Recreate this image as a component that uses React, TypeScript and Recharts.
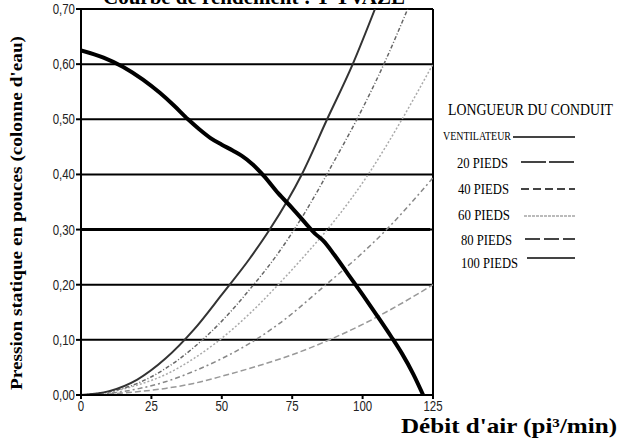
import { LineChart, Line, XAxis, YAxis, CartesianGrid, ReferenceLine } from 'recharts';

// Courbe du ventilateur (débit, pression)
const FAN_X = [0, 8, 15, 22, 28, 33, 38, 42, 46, 50, 54, 57, 61, 65, 70, 75, 80, 83, 86, 90, 95, 100, 105, 110, 114, 118, 121.5];
const FAN_Y = [0.625, 0.612, 0.595, 0.572, 0.548, 0.525, 0.5, 0.482, 0.466, 0.454, 0.443, 0.434, 0.418, 0.397, 0.366, 0.339, 0.31, 0.293, 0.28, 0.254, 0.218, 0.182, 0.145, 0.107, 0.075, 0.038, 0];

// Courbes de conduit
const P20_X = [0, 10, 20, 30, 40, 50, 63, 75, 89.5, 100, 110, 125];
const P20_Y = [0, 0.002, 0.006, 0.012, 0.021, 0.034, 0.053, 0.073, 0.103, 0.128, 0.155, 0.2];
const P40_X = [0, 10, 20, 30, 40, 50, 61, 70, 87, 100, 108.5, 125];
const P40_Y = [0, 0.003, 0.011, 0.024, 0.043, 0.066, 0.097, 0.128, 0.2, 0.258, 0.3, 0.394];
const P60_X = [0, 10, 20, 30, 40, 48, 60, 70, 80, 90, 102, 114, 125];
const P60_Y = [0, 0.005, 0.018, 0.037, 0.066, 0.095, 0.148, 0.2, 0.256, 0.316, 0.4, 0.5, 0.6];
const P80_X = [0, 10, 20, 30, 40, 50, 60, 70, 80, 90, 100, 108, 116];
const P80_Y = [0, 0.006, 0.021, 0.048, 0.086, 0.134, 0.192, 0.257, 0.335, 0.425, 0.52, 0.605, 0.7];
const P100_X = [0, 10, 20, 30, 40, 50, 60, 67, 78.4, 87.4, 96.5, 104.4];
const P100_Y = [0, 0.007, 0.028, 0.066, 0.118, 0.182, 0.248, 0.3, 0.4, 0.5, 0.6, 0.7];

const X_TICKS = [0, 25, 50, 75, 100, 125];
const Y_TICKS = [0, 0.1, 0.2, 0.3, 0.4, 0.5, 0.6, 0.7];

const LEGEND_LABELS = ['VENTILATEUR', '20 PIEDS', '40 PIEDS', '60 PIEDS', '80 PIEDS', '100 PIEDS'];

const toPoints = (xs: number[], ys: number[]) => xs.map((x, i) => ({ x, y: ys[i] }));

const tickFont = "'Liberation Sans', Arial, sans-serif";
const serif = "'Liberation Serif', 'DejaVu Serif', serif";

const legendRows = [
  { label: LEGEND_LABELS[0], tx: 443, tw: 68, ty: 140, size: 9, sy: 1.35, x1: 513, ly: 137, stroke: '#444', dash: undefined },
  { label: LEGEND_LABELS[1], tx: 457, tw: 51, ty: 168, size: 12, sy: 1.3, x1: 521, ly: 162, stroke: '#444', dash: '25 3' },
  { label: LEGEND_LABELS[2], tx: 458, tw: 51, ty: 194, size: 12, sy: 1.3, x1: 521, ly: 189, stroke: '#444', dash: '8 4' },
  { label: LEGEND_LABELS[3], tx: 458, tw: 52, ty: 220, size: 12, sy: 1.3, x1: 524, ly: 216, stroke: '#bbb', dash: '3 1' },
  { label: LEGEND_LABELS[4], tx: 461, tw: 51, ty: 245, size: 12, sy: 1.3, x1: 525, ly: 239, stroke: '#444', dash: '15 4' },
  { label: LEGEND_LABELS[5], tx: 461, tw: 57, ty: 268, size: 12, sy: 1.3, x1: 527, ly: 258, stroke: '#444', dash: undefined },
];

function YTick({ x, y, payload }: any) {
  return (
    <g transform={`translate(${x},${y})`}>
      <text x={0} y={0} dy={5} textAnchor="end" fill="#222" fontFamily={tickFont} fontSize={14} transform="scale(0.82,1)">
        {Number(payload.value).toFixed(2).replace('.', ',')}
      </text>
    </g>
  );
}

function XTick({ x, y, payload }: any) {
  return (
    <g transform={`translate(${x},${y})`}>
      <text x={0} y={0} dy={12} textAnchor="middle" fill="#222" fontFamily={tickFont} fontSize={14} transform="scale(0.82,1)">
        {payload.value}
      </text>
    </g>
  );
}

export default function App() {
  return (
    <div style={{ position: 'absolute', left: 0, top: 0, width: 621, height: 440, background: '#fff', overflow: 'hidden' }}>
      <LineChart width={621} height={440} margin={{ top: 9, right: 188, bottom: 25, left: 41 }}>
        <CartesianGrid vertical={false} horizontal stroke="#000" strokeWidth={2} />
        <XAxis
          type="number"
          dataKey="x"
          domain={[0, 125]}
          ticks={X_TICKS}
          allowDataOverflow
          height={20}
          stroke="#000"
          strokeWidth={2}
          tickSize={4}
          tickMargin={0}
          tick={<XTick />}
        />
        <YAxis
          type="number"
          domain={[0, 0.7]}
          ticks={Y_TICKS}
          allowDataOverflow
          width={40}
          stroke="#000"
          strokeWidth={2}
          tickSize={5}
          tickMargin={1}
          tick={<YTick />}
        />
        <ReferenceLine x={125} stroke="#000" strokeWidth={2} />
        <ReferenceLine segment={[{ x: 0, y: 0.3 }, { x: 124, y: 0.3 }]} stroke="#000" strokeWidth={3} />
        <Line data={toPoints(P20_X, P20_Y)} dataKey="y" type="monotone" stroke="#999" strokeWidth={1.5} strokeDasharray="6 3" dot={false} isAnimationActive={false} />
        <Line data={toPoints(P40_X, P40_Y)} dataKey="y" type="monotone" stroke="#888" strokeWidth={1.5} strokeDasharray="2 3 5 3" dot={false} isAnimationActive={false} />
        <Line data={toPoints(P60_X, P60_Y)} dataKey="y" type="monotone" stroke="#aaa" strokeWidth={1.5} strokeDasharray="2 2" dot={false} isAnimationActive={false} />
        <Line data={toPoints(P80_X, P80_Y)} dataKey="y" type="monotone" stroke="#666" strokeWidth={1.5} strokeDasharray="4 2 1 2" dot={false} isAnimationActive={false} />
        <Line data={toPoints(P100_X, P100_Y)} dataKey="y" type="monotone" stroke="#333" strokeWidth={2} dot={false} isAnimationActive={false} />
        <Line data={toPoints(FAN_X, FAN_Y)} dataKey="y" type="monotone" stroke="#000" strokeWidth={4} dot={false} isAnimationActive={false} />
      </LineChart>
      <svg width={621} height={440} style={{ position: 'absolute', left: 0, top: 0, pointerEvents: 'none' }}>
        <text x={103} y={4} fontFamily={serif} fontWeight="bold" fontSize={20} textLength={302} lengthAdjust="spacingAndGlyphs">
          Courbe de rendement : Y-TVAZE
        </text>
        <text
          transform="translate(22, 390) rotate(-90)"
          x={0}
          y={0}
          fontFamily={serif}
          fontWeight="bold"
          fontSize={17}
          textLength={354}
          lengthAdjust="spacingAndGlyphs"
        >
          Pression statique en pouces (colonne d'eau)
        </text>
        <text x={401} y={433} fontFamily={serif} fontWeight="bold" fontSize={22} textLength={216} lengthAdjust="spacingAndGlyphs">
          Débit d'air (pi³/min)
        </text>
        <text transform="translate(448, 115) scale(1, 1.35)" x={0} y={0} fontFamily={serif} fontSize={13} textLength={165} lengthAdjust="spacingAndGlyphs">
          LONGUEUR DU CONDUIT
        </text>
        {legendRows.map((r) => (
          <g key={r.label}>
            <text
              transform={`translate(${r.tx}, ${r.ty}) scale(1, ${r.sy})`}
              x={0}
              y={0}
              fontFamily={serif}
              fontSize={r.size}
              textLength={r.tw}
              lengthAdjust="spacingAndGlyphs"
            >
              {r.label}
            </text>
            <line x1={r.x1} x2={575} y1={r.ly} y2={r.ly} stroke={r.stroke} strokeWidth={2} strokeDasharray={r.dash} />
          </g>
        ))}
      </svg>
    </div>
  );
}
